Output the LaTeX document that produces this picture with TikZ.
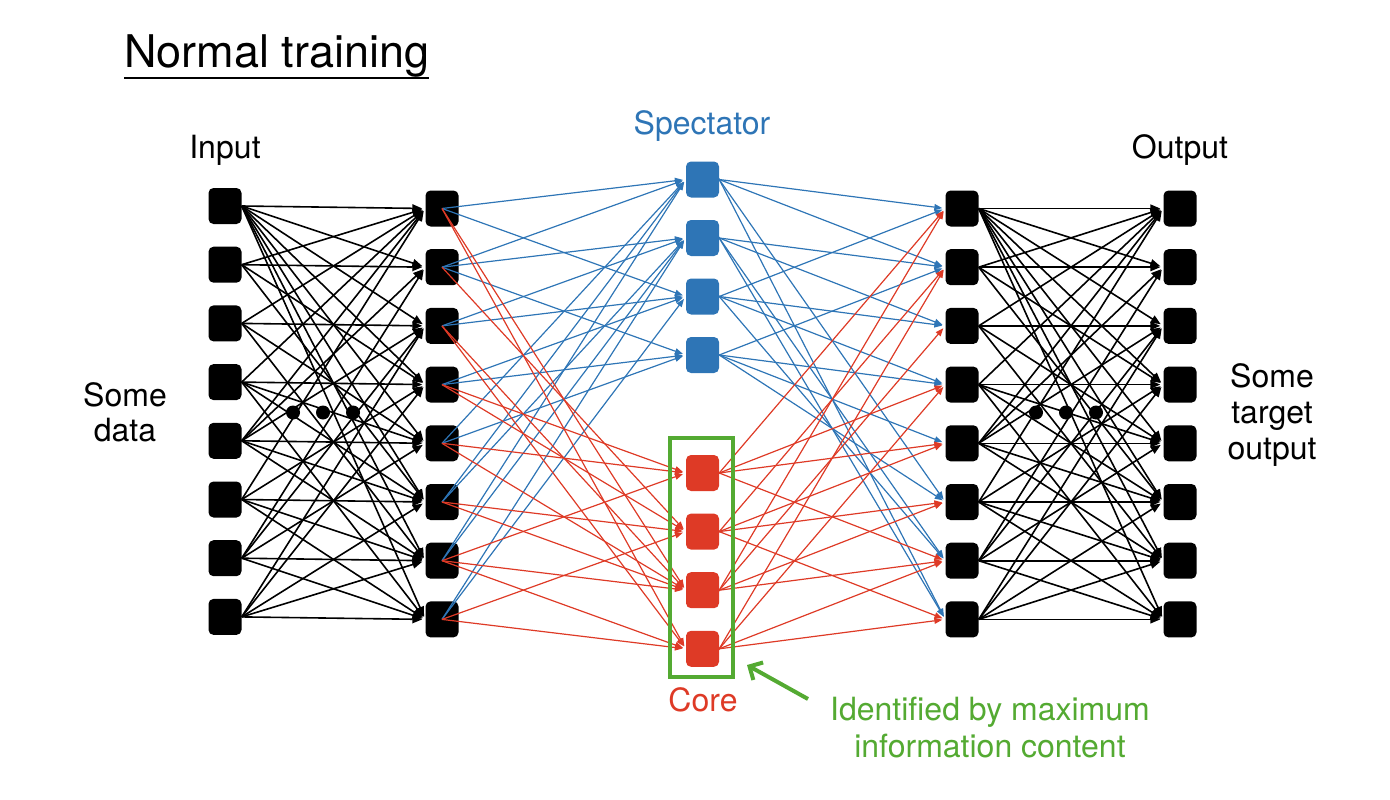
\documentclass[tikz,border=0pt]{standalone}
\usepackage{fontspec}
\setmainfont{TeX Gyre Heros}
\usetikzlibrary{arrows.meta}
\definecolor{specblue}{RGB}{46,117,182}
\definecolor{corered}{RGB}{222,58,38}
\definecolor{markgreen}{RGB}{84,170,50}

\begin{document}
\begin{tikzpicture}[x=1pt,y=-1pt,
    neuron/.style={rectangle,rounded corners=5pt,minimum width=33pt,minimum height=36pt,inner sep=0pt,fill=#1},
    neuron/.default=black,
    blacklink/.style={-{Triangle[length=10pt,width=8pt]},line width=1.6pt,shorten >=3pt},
    colorlink/.style={-{Triangle[length=8pt,width=6pt]},line width=1.2pt,draw=#1,shorten >=3pt},
    label/.style={font={\fontsize{32}{36}\selectfont},inner sep=0pt}]
    \useasboundingbox (0,0) rectangle (1390,800);
    % layers
    \foreach \i in {1,...,8} {
        \node[neuron] (in\i) at (225,{206+58.7*(\i-1)}) {};
        \node[neuron] (hA\i) at (442,{208.5+58.7*(\i-1)}) {};
        \node[neuron] (hB\i) at (962,{208.5+58.7*(\i-1)}) {};
        \node[neuron] (out\i) at (1180,{208.5+58.7*(\i-1)}) {};
    }
    \foreach \i in {1,...,4} {
        \node[neuron=specblue] (sp\i) at (702.5,{179.5+58.5*(\i-1)}) {};
        \node[neuron=corered] (co\i) at (702.5,{473+58.6*(\i-1)}) {};
    }
    % black connections, same pattern on both sides
    \foreach \i/\targets in {1/{1,2,3,4,5,6,7,8},2/{1,2,4,6},3/{1,3,5,7},4/{1,4,5,6,8},
                             5/{1,2,3,5,6,7},6/{1,4,6,7,8},7/{2,3,5,7,8},8/{3,4,6,7,8}} {
        \foreach \j in \targets {
            \draw[blacklink] (in\i.east) -- (hA\j.west);
            \draw[blacklink] (hB\i.east) -- (out\j.west);
        }
    }
    % into the middle layer
    \foreach \i/\targets in {1/{1,3},2/{1,2,4},3/{2,3},4/{3,4},5/{1,4},6/{1,2},7/{1,2},8/{2,3}}
        \foreach \j in \targets
            \draw[colorlink=specblue] (hA\i.center) -- (sp\j.west);
    \foreach \i/\targets in {1/{3,4},2/{2},3/{3,4},4/{1,2},5/{1,3},6/{2,3},7/{1,3,4},8/{2,4}}
        \foreach \j in \targets
            \draw[colorlink=corered] (hA\i.center) -- (co\j.west);
    % out of the middle layer
    \foreach \i/\targets in {1/{1,2,6,8},2/{2,3,7,8},3/{1,3,4,7},4/{2,4,5,6}}
        \foreach \j in \targets
            \draw[colorlink=specblue,shorten <=-5pt] (sp\i.east) -- (hB\j.west);
    \foreach \i/\targets in {1/{1,4,5,7},2/{2,5,6,8},3/{1,3,6,7},4/{2,4,7,8}}
        \foreach \j in \targets
            \draw[colorlink=corered,shorten <=-5pt] (co\i.east) -- (hB\j.west);
    % dots
    \foreach \x in {293,323,353,1036,1066,1096}
        \fill (\x,412.5) circle (7);
    % core box and pointer
    \draw[markgreen,line width=3.5pt] (670,438) rectangle (733,677);
    \coordinate (tail) at (808,699);
    \coordinate (head) at (747,665);
    \draw[markgreen,line width=4pt,-{Straight Barb[length=10pt,width=20pt]}] (tail) -- (head);
    % texts
    \node[inner sep=0pt,anchor=base west,font={\fontsize{45}{50}\selectfont}] (title) at (124,68) {Normal training};
    \draw[line width=2.2pt] (title.south west) -- (title.south east);
    \node[label,anchor=base] (inlabel) at (225,158) {Input};
    \node[label,anchor=base] (outlabel) at (1180,158) {Output};
    \node[label,anchor=base,specblue] (splabel) at (702,134) {Spectator};
    \node[label,anchor=base,corered] (colabel) at (703,711) {Core};
    \node[label,align=center,anchor=north,font={\fontsize{32}{35}\selectfont}] (datalabel) at (125,382) {Some\\data};
    \node[label,align=center,anchor=north] (targetlabel) at (1272,363) {Some\\target\\output};
    \node[label,align=center,anchor=north,markgreen,font={\fontsize{32}{37}\selectfont}] (greenlabel) at (990,696.5) {Identified by maximum\\information content};
\end{tikzpicture}
\end{document}
